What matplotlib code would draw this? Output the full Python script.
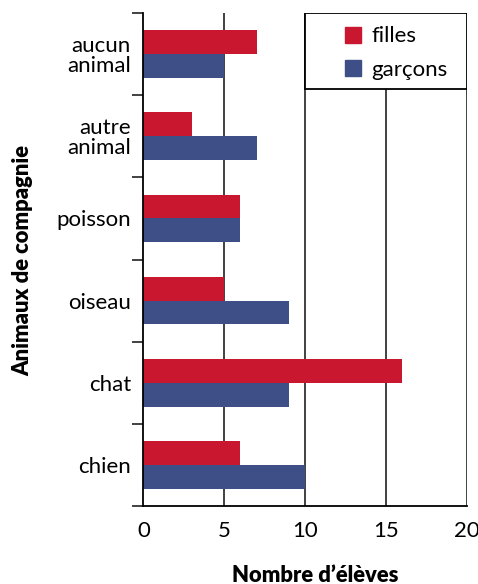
import matplotlib
matplotlib.use("Agg")
import matplotlib.pyplot as plt
from matplotlib.patches import Patch, Rectangle
import numpy as np

# pets, listed bottom to top
categories = ["chien", "chat", "oiseau", "poisson", "autre\nanimal", "aucun\nanimal"]
filles = [6, 16, 5, 6, 3, 7]
garcons = [10, 9, 9, 6, 7, 5]
xticks = [0, 5, 10, 15, 20]

RED = "#c8172f"
BLUE = "#3e4f88"
FS = 16
FS_TITLE = 15.8

plt.rcParams["font.family"] = ["Lato", "DejaVu Sans"]

fig = plt.figure(figsize=(4.78, 5.84), dpi=100)
ax = fig.add_axes([0.300, 0.1336, 0.677, 0.8441])

y = np.arange(len(categories))
h = 0.29
ax.barh(y + h / 2, filles, height=h, color=RED, zorder=2)
ax.barh(y - h / 2, garcons, height=h, color=BLUE, zorder=2)

ax.set_xlim(0, 20)
ax.set_ylim(-0.5, len(categories) - 0.5)

# vertical grid, drawn as plain lines
for v in xticks[1:]:
    ax.axvline(v, color="#333333", lw=1.3, zorder=1)

ax.set_xticks(xticks)
ax.tick_params(axis="x", length=0, pad=11, labelsize=FS)

# category boundaries get the tick marks, centres get the labels
ax.set_yticks(np.arange(-0.5, len(categories), 1.0))
ax.set_yticklabels([])
ax.set_yticks(y, minor=True)
ax.set_yticklabels(categories, minor=True, fontsize=FS, linespacing=1.0)
ax.tick_params(axis="y", which="major", length=8, width=1.3, color="#333333")
ax.tick_params(axis="y", which="minor", length=0, pad=9)

for side in ["top", "right"]:
    ax.spines[side].set_visible(False)
for side in ["left", "bottom"]:
    ax.spines[side].set_color("black")
    ax.spines[side].set_linewidth(1.3)

# legend box in the upper right corner
box_h = 76 / 493
ax.add_patch(Rectangle((0.5, 1 - box_h), 0.5, box_h, transform=ax.transAxes,
                       facecolor="white", edgecolor="black", lw=1.3, zorder=3))
handles = [Patch(color=RED, label="filles"), Patch(color=BLUE, label="garçons")]
leg = ax.legend(handles=handles, loc="upper left", bbox_to_anchor=(0.582, 1.0),
                frameon=False, fontsize=FS, handlelength=0.72, handleheight=0.72,
                handletextpad=0.45, labelspacing=0.6, borderaxespad=0.2)
leg.set_zorder(4)

fig.text(315 / 478, 1 - 575 / 584, "Nombre d’élèves", fontsize=FS_TITLE,
         fontweight="heavy", ha="center", va="center")
fig.text(23 / 478, 1 - 260 / 584, "Animaux de compagnie", rotation=90,
         fontsize=FS_TITLE, fontweight="heavy", ha="center", va="center")

fig.savefig("out.png", dpi=100)
